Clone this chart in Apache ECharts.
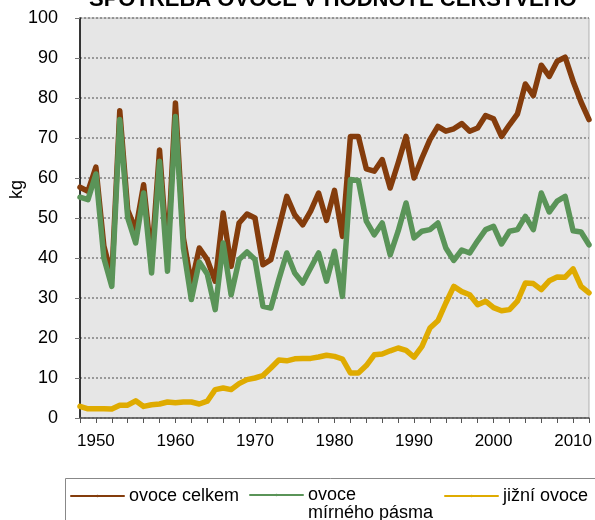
<!DOCTYPE html>
<html>
<head>
<meta charset="utf-8">
<script src="https://cdn.jsdelivr.net/npm/echarts@6/dist/echarts.min.js"></script>
<style>
  html, body { margin: 0; padding: 0; background: #fff; }
  #chart { width: 595px; height: 520px; }
</style>
</head>
<body>
<div id="chart"></div>
<script>
var years = [1948,1949,1950,1951,1952,1953,1954,1955,1956,1957,1958,1959,
  1960,1961,1962,1963,1964,1965,1966,1967,1968,1969,
  1970,1971,1972,1973,1974,1975,1976,1977,1978,1979,
  1980,1981,1982,1983,1984,1985,1986,1987,1988,1989,
  1990,1991,1992,1993,1994,1995,1996,1997,1998,1999,
  2000,2001,2002,2003,2004,2005,2006,2007,2008,2009,
  2010,2011,2012];

// ovoce celkem
var celkem = [57.7,56.7,62.7,43,35.3,76.8,52,47,58.3,39.5,67,40,
  78.75,45,33.5,42.5,39.6,34.2,51.25,37.9,48.75,51,
  50,38.3,39.6,47.5,55.4,50.8,48.3,51.7,56.25,49.4,
  56.9,45.4,70.4,70.4,62.3,61.7,64.6,57.5,63.75,70.4,
  60,65,69.6,72.9,71.7,72.3,73.6,71.7,72.5,75.6,
  74.8,70.4,73.3,76,83.5,80.6,88.2,85.4,89.2,90.2,
  84.2,79,74.6];

// ovoce mírného pásma
var mirne = [55.2,54.6,61,40,32.9,74.6,50,43.75,56.25,36.25,64.2,36.7,
  75.4,42.5,29.6,39,36,27.1,43.75,30.8,39.6,41.5,
  39.6,27.9,27.5,34.6,41.25,36.25,33.75,37.5,41.25,34.2,
  41.7,30.4,59.6,59.4,49.2,45.8,48.75,40.8,46.7,53.75,
  45,46.7,47.1,48.75,42.5,39.4,42,41.25,44.3,47.1,
  47.9,43.5,46.7,47.1,50.4,47.1,56.25,51.5,54.2,55.4,
  46.8,46.5,43.3];

// jižní ovoce
var jizni = [2.9,2.3,2.3,2.3,2.25,3.2,3.2,4.3,2.9,3.3,3.5,4,
  3.8,4,4,3.5,4.2,7.1,7.5,7.1,8.6,9.6,
  10,10.6,12.5,14.5,14.3,14.8,14.9,14.9,15.25,15.7,
  15.4,14.75,11.25,11.25,13.1,15.8,16,16.8,17.5,16.9,
  15.2,17.9,22.5,24.3,28.75,32.9,31.6,30.8,28.3,29.2,
  27.6,26.8,27.1,29.2,33.75,33.6,32.1,34.3,35.25,35.2,
  37.3,32.9,31.3];

var yTicks = [0,10,20,30,40,50,60,70,80,90,100];

var font = 'Liberation Sans, Arial, sans-serif';
var cBrown = '#843c0c', cGreen = '#5a9458', cGold = '#dfab00';

var chart = echarts.init(document.getElementById('chart'));

function makeLine(name, data, color) {
  return {
    name: name,
    type: 'line',
    data: data,
    symbol: 'none',
    animation: false,
    lineStyle: { color: color, width: 5.5, cap: 'round', join: 'round' },
    itemStyle: { color: color }
  };
}

function makeLegend(name, left, fmt) {
  var lg = {
    data: [name],
    left: left,
    top: 487,
    itemWidth: 53,
    itemHeight: 3,
    itemGap: 0,
    padding: 0,
    textStyle: { fontFamily: font, fontSize: 18, color: '#000' }
  };
  if (fmt) {
    // empty first line keeps the icon level with "ovoce"
    lg.formatter = fmt;
    lg.textStyle.lineHeight = 18;
    lg.top = 496 - 28;
  }
  return lg;
}

var option = {
  backgroundColor: '#fff',
  animation: false,
  title: {
    text: 'SPOTŘEBA OVOCE V HODNOTĚ ČERSTVÉHO',
    left: 89,
    top: -11,
    padding: 0,
    textStyle: { fontFamily: font, fontSize: 22, fontWeight: 'bold', color: '#000' }
  },
  legend: [
    makeLegend('ovoce celkem', 70),
    makeLegend('ovoce mírného pásma', 249, function () {
      return '\novoce\nmírného pásma';
    }),
    makeLegend('jižní ovoce', 444)
  ],
  grid: {
    left: 80, right: 4, top: 18, bottom: 102,
    show: true,
    backgroundColor: '#e6e6e6',
    borderColor: '#b0b0b0',
    borderWidth: 1
  },
  xAxis: {
    type: 'category',
    data: years,
    boundaryGap: false,
    axisLine: { lineStyle: { color: '#555', width: 1.5 } },
    axisTick: {
      show: true, length: 5,
      interval: function (i) { return i % 2 === 0; },
      lineStyle: { color: '#555' }
    },
    axisLabel: {
      interval: function (i, v) { return Number(v) % 10 === 0; },
      margin: 15,
      fontFamily: font, fontSize: 17, color: '#000'
    },
    splitLine: { show: false }
  },
  yAxis: {
    type: 'value',
    min: yTicks[0],
    max: yTicks[yTicks.length - 1],
    interval: 10,
    axisLine: { show: true, lineStyle: { color: '#000', width: 1.5 } },
    axisTick: { show: true, length: 5, lineStyle: { color: '#777' } },
    axisLabel: { margin: 22, fontFamily: font, fontSize: 18, color: '#000' },
    splitLine: { lineStyle: { color: '#808080', type: [2, 2], width: 1.5 } }
  },
  graphic: [
    {
      type: 'text',
      left: 8, top: 180,
      rotation: Math.PI / 2,
      style: { text: 'kg', font: '18px ' + font, fill: '#000' }
    },
    {
      type: 'rect',
      left: 63, top: 476,
      shape: { width: 560, height: 80 },
      style: { fill: 'none', stroke: '#888', lineWidth: 1 },
      z: -1
    }
  ],
  series: [
    makeLine('ovoce celkem', celkem, cBrown),
    makeLine('ovoce mírného pásma', mirne, cGreen),
    makeLine('jižní ovoce', jizni, cGold)
  ]
};

chart.setOption(option);
</script>
</body>
</html>
